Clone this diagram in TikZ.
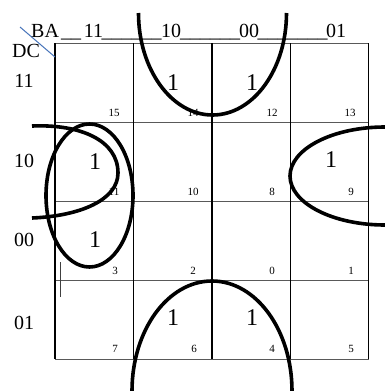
\documentclass[tikz,border=0pt]{standalone}
\usepackage{fontspec}
\setmainfont{Liberation Serif}
\begin{document}
\begin{tikzpicture}[x=1pt,y=-1pt,
  lab/.style={font=\fontsize{20}{20}\selectfont, inner sep=0pt, anchor=base},
  one/.style={font=\fontsize{24}{24}\selectfont, inner sep=0pt},
  idx/.style={font=\fontsize{11}{11}\selectfont, inner sep=0pt},
  loopline/.style={line width=3.6pt, black},
  vline/.style={line width=1.3pt, black},
  hline/.style={line width=0.9pt, black!65}]
\useasboundingbox (0,0) rectangle (385,391);
% grid
\foreach \y in {43,122,201,280,359} \draw[hline] (55,\y) -- (368.5,\y);
\foreach \x in {55,133.5,212,290.5,368.5} \draw[vline] (\x,43) -- (\x,359);
% diagonal
\draw[line width=1pt, color={rgb,255:red,70;green,115;blue,185}] (20,27) -- (55,57);
% header
\node[lab, anchor=base west] (ba) at (31,37) {BA};
\node[lab] (u1) at (71,37) {\_\_};
\node[lab] (c11) at (93.5,37) {11};
\node[lab] (u2) at (131.5,37) {\_\_\_\_\_\_};
\node[lab] (c10) at (171,37) {10};
\node[lab] (u3) at (210,37) {\_\_\_\_\_\_};
\node[lab] (c00) at (249,37) {00};
\node[lab] (u4) at (292.5,37) {\_\_\_\_\_\_\_};
\node[lab] (c01) at (336,37) {01};
\node[lab, anchor=base west] (dc) at (12,57) {DC};
% row labels
\node[lab] (r11) at (24,87) {11};
\node[lab] (r10) at (24,167) {10};
\node[lab] (r00) at (24,246) {00};
\node[lab] (r01) at (24,329) {01};
% cell indices
\node[idx] (m15) at (114,113) {15};
\node[idx] (m14) at (193,113) {14};
\node[idx] (m12) at (272,113) {12};
\node[idx] (m13) at (350,113) {13};
\node[idx] (m11) at (114,192) {11};
\node[idx] (m10) at (193,192) {10};
\node[idx] (m8) at (272,192) {8};
\node[idx] (m9) at (351,192) {9};
\node[idx] (m3) at (115,271) {3};
\node[idx] (m2) at (193,271) {2};
\node[idx] (m0) at (272,271) {0};
\node[idx] (m1) at (351,271) {1};
\node[idx] (m7) at (115,349) {7};
\node[idx] (m6) at (194,349) {6};
\node[idx] (m4) at (272,349) {4};
\node[idx] (m5) at (351,349) {5};
% ones
\node[one] (o14) at (173,83) {1};
\node[one] (o12) at (252,83) {1};
\node[one] (o11) at (95,162) {1};
\node[one] (o3) at (95,240) {1};
\node[one] (o9) at (331,160) {1};
\node[one] (o6) at (173,318) {1};
\node[one] (o4) at (252,318) {1};
% loops
\draw[loopline] (138.5,13) arc[start angle=180, end angle=0, x radius=74, y radius=102];
\draw[loopline] (132,391) arc[start angle=180, end angle=0, x radius=80, y radius=-110];
\draw[loopline] (89.5,195.5) ellipse[x radius=43.5, y radius=71.5];
\draw[loopline] (32,126) .. controls (80,124) and (118,140) .. (118,173) .. controls (118,200) and (80,216) .. (32,218);
\draw[loopline] (385,127) arc[start angle=90, end angle=270, x radius=95, y radius=-49];
% cursor mark
\draw[line width=0.8pt, black!75] (60,262) -- (60,297);
\end{tikzpicture}
\end{document}
